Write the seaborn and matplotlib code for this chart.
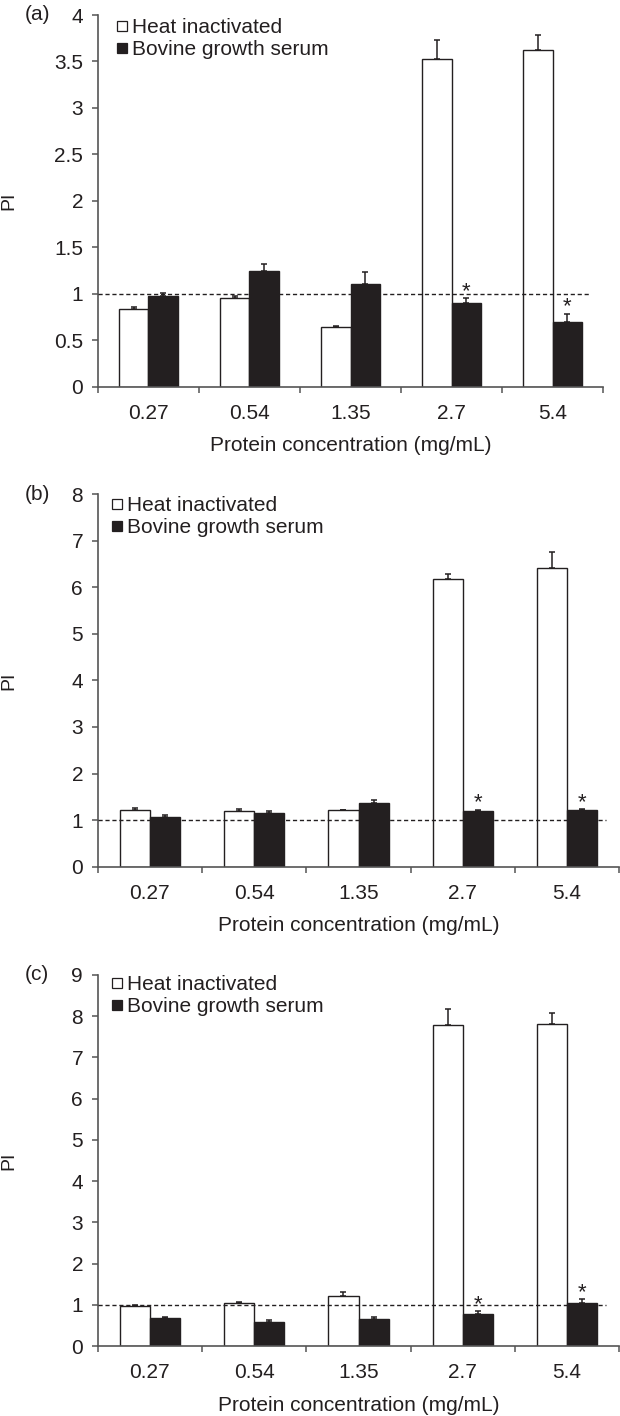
import numpy as np
import pandas as pd
import matplotlib
matplotlib.use("Agg")
import matplotlib.pyplot as plt
import seaborn as sns
from matplotlib.lines import Line2D
from matplotlib.ticker import FuncFormatter

# ---------------- data ----------------
concentrations = ["0.27", "0.54", "1.35", "2.7", "5.4"]
series_names = ["Heat inactivated", "Bovine growth serum"]

a_heat = [0.83, 0.95, 0.64, 3.53, 3.62]
a_heat_err = [0.03, 0.02, 0.01, 0.20, 0.17]
a_bovine = [0.97, 1.24, 1.10, 0.90, 0.69]
a_bovine_err = [0.04, 0.08, 0.13, 0.05, 0.09]

b_heat = [1.21, 1.20, 1.21, 6.17, 6.41]
b_heat_err = [0.05, 0.04, 0.015, 0.11, 0.34]
b_bovine = [1.07, 1.16, 1.37, 1.19, 1.21]
b_bovine_err = [0.05, 0.045, 0.06, 0.03, 0.02]

c_heat = [0.98, 1.04, 1.22, 7.78, 7.81]
c_heat_err = [0.02, 0.025, 0.09, 0.40, 0.26]
c_bovine = [0.67, 0.58, 0.66, 0.78, 1.05]
c_bovine_err = [0.03, 0.05, 0.05, 0.06, 0.08]

significant = [False, False, False, True, True]
panel_labels = ["(a)", "(b)", "(c)"]
y_max = [4, 8, 9]
y_step = [0.5, 1, 1]
reference_level = 1.0
x_title = "Protein concentration (mg/mL)"
y_title = "PI"

# ---------------- style ----------------
sns.set_theme(style="white")
plt.rcParams["font.family"] = ["Liberation Sans", "DejaVu Sans"]
INK = "#231f20"
SPINE = "#555555"
FS = 15

W, H = 620, 1416
fig = plt.figure(figsize=(W / 100, H / 100), dpi=100)

# axes rectangles in pixels: left, right, top, bottom
rects = [(97.7, 603.3, 15, 386.5), (97.7, 619.3, 494, 866.7), (97.7, 619.3, 975, 1346)]
legend_dx = [18, 13, 13]
legend_dy = [3, 2, 0]

panels = [
    (a_heat, a_heat_err, a_bovine, a_bovine_err),
    (b_heat, b_heat_err, b_bovine, b_bovine_err),
    (c_heat, c_heat_err, c_bovine, c_bovine_err),
]

for k, (heat, heat_err, bov, bov_err) in enumerate(panels):
    l, r, t, b = rects[k]
    ax = fig.add_axes([l / W, 1 - b / H, (r - l) / W, (b - t) / H])
    df = pd.DataFrame({
        "conc": concentrations * 2,
        "PI": heat + bov,
        "group": [series_names[0]] * len(concentrations) + [series_names[1]] * len(concentrations),
    })
    sns.barplot(data=df, x="conc", y="PI", hue="group", order=concentrations,
                hue_order=series_names, palette=["#ffffff", INK], saturation=1,
                edgecolor=INK, linewidth=1.0, width=0.58, errorbar=None,
                legend=False, ax=ax, zorder=2)

    for cont, errs in zip(ax.containers, [heat_err, bov_err]):
        xs = [p.get_x() + p.get_width() / 2 for p in cont]
        ys = [p.get_height() for p in cont]
        ax.errorbar(xs, ys, yerr=[np.zeros(len(errs)), errs], fmt="none",
                    ecolor=INK, elinewidth=1.1, capsize=2.4, capthick=1.1, zorder=3)

    for i, p in enumerate(ax.containers[1]):
        if significant[i]:
            x = p.get_x() + p.get_width() / 2
            ax.annotate("*", xy=(x, p.get_height() + bov_err[i]), xytext=(0, 1.0),
                        textcoords="offset points", ha="center", va="baseline",
                        fontsize=FS + 1, color=INK)

    ax.axhline(reference_level, xmin=0, xmax=0.975, color=INK, lw=1.0,
               ls=(0, (3, 2)), zorder=4)

    ax.set_xlim(-0.5, len(concentrations) - 0.5)
    ax.set_ylim(0, y_max[k])
    ax.set_yticks(np.arange(0, y_max[k] + y_step[k] / 2, y_step[k]))
    ax.yaxis.set_major_formatter(FuncFormatter(lambda v, pos: f"{v:g}"))
    ax.set_xticks(range(len(concentrations)))
    ax.set_xticklabels(concentrations)
    ax.set_xticks(np.arange(-0.5, len(concentrations)), minor=True)
    ax.tick_params(axis="x", which="major", length=0, pad=12.5, labelsize=FS, labelcolor=INK)
    ax.tick_params(axis="x", which="minor", length=4.5, width=1.1, color=SPINE, direction="out", bottom=True)
    ax.tick_params(axis="y", which="major", length=4.5, width=1.1, color=SPINE, direction="out",
                   left=True, pad=6, labelsize=FS, labelcolor=INK)

    sns.despine(ax=ax)
    for s in ["left", "bottom"]:
        ax.spines[s].set_color(SPINE)
        ax.spines[s].set_linewidth(1.2)

    ax.set_xlabel(x_title, fontsize=FS, color=INK, labelpad=9.5)
    ax.set_ylabel(y_title, fontsize=14, color=INK)
    ax.yaxis.set_label_coords(-80 / (r - l), 0.5)

    handles = [
        Line2D([], [], marker="s", ls="none", markersize=6.5, markerfacecolor="#ffffff",
               markeredgecolor=INK, markeredgewidth=0.9),
        Line2D([], [], marker="s", ls="none", markersize=6.5, markerfacecolor=INK,
               markeredgecolor=INK, markeredgewidth=0.9),
    ]
    ax.legend(handles, series_names, loc="upper left",
              bbox_to_anchor=(legend_dx[k] / (r - l), 1 - legend_dy[k] / (b - t)),
              frameon=False, fontsize=FS, handlelength=0.6, handletextpad=0.2,
              labelspacing=0.15, borderpad=0, borderaxespad=0, labelcolor=INK)

    fig.text(25 / W, 1 - t / H, panel_labels[k], fontsize=FS, color=INK,
             ha="left", va="center")

fig.savefig("out.png", dpi=100)
